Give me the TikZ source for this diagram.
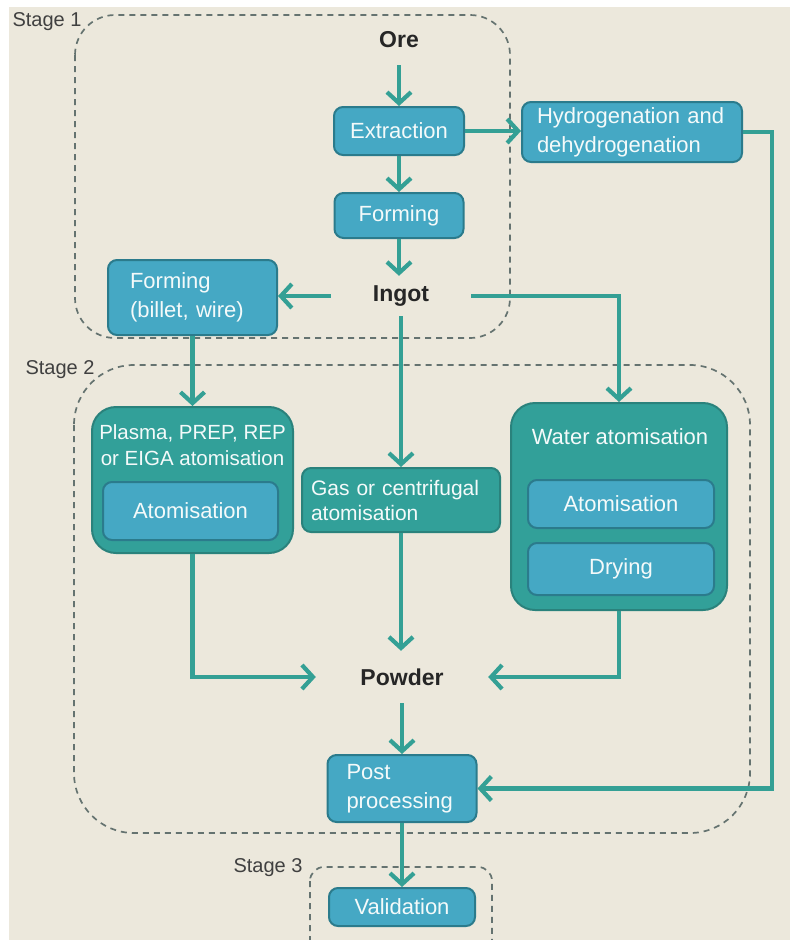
\documentclass[tikz,border=0pt]{standalone}
\usepackage{fontspec}
\setmainfont{Liberation Sans}
\usetikzlibrary{arrows.meta}
\definecolor{bgbeige}{HTML}{ECE8DC}
\definecolor{boxblue}{HTML}{45A8C4}
\definecolor{boxedge}{HTML}{2B7B8C}
\definecolor{boxtext}{HTML}{F4FAFA}
\definecolor{grpteal}{HTML}{32A099}
\definecolor{grpedge}{HTML}{2A827C}
\definecolor{flowteal}{HTML}{34A095}
\definecolor{stagegray}{HTML}{657370}

\begin{document}
\begin{tikzpicture}[x=1pt,y=-1pt,
  every node/.style={font=\fontsize{22}{29}\selectfont},
  proc/.style={draw=boxedge,fill=boxblue,line width=2pt,rounded corners=9pt,text=boxtext,inner sep=0pt},
  grp/.style={draw=grpedge,fill=grpteal,line width=2pt,rounded corners=24pt,inner sep=0pt},
  grptitle/.style={text=boxtext,inner sep=0pt,align=center},
  lbl/.style={font=\fontsize{23}{27}\selectfont\bfseries,text=black!85,inner sep=0pt},
  stagebox/.style={draw=stagegray,line width=1.7pt,dash pattern=on 6pt off 5pt,rounded corners=40pt},
  stagelbl/.style={text=black!75,font=\fontsize{20}{24}\selectfont},
  flow/.style={draw=flowteal,line width=4.2pt,-{Straight Barb[length=11pt,width=24pt]}}]
 \useasboundingbox (0,0) rectangle (792,940);
 \clip (0,0) rectangle (792,940);
 \fill[white] (0,0) rectangle (792,940);
 \fill[bgbeige] (9,7) rectangle (790,940);

 \draw[stagebox] (75,15) rectangle (510,338);
 \draw[stagebox,rounded corners=60pt] (74,365) rectangle (750,833);
 \draw[stagebox,rounded corners=14pt] (310,867) rectangle (492,960);
 \node[stagelbl] (s1) at (47,22) {Stage 1};
 \node[stagelbl] (s2) at (60,370) {Stage 2};
 \node[stagelbl] (s3) at (268,868) {Stage 3};

 \node[lbl,minimum width=60pt,minimum height=50pt] (ore) at (399,40) {Ore};
 \node[proc,minimum width=130pt,minimum height=48pt] (extr) at (399,131) {Extraction};
 \node[proc,minimum width=129pt,minimum height=45pt] (form) at (399,215.5) {Forming};
 \node[lbl,minimum width=140pt,minimum height=40pt] (ingot) at (401,296) {Ingot};
 \node[proc,minimum width=220pt,minimum height=60pt,text width=190pt,align=left] (hyd) at (632,132) {Hydrogenation and\\dehydrogenation};
 \node[proc,minimum width=169pt,minimum height=75pt,text width=125pt,align=left] (billet) at (192.5,297.5) {Forming\\(billet, wire)};

 \node[grp,minimum width=201pt,minimum height=146pt] (plasma) at (192.5,480) {};
 \node[grptitle,font=\fontsize{20.5}{26}\selectfont] (plasmatitle) at (192.5,445) {Plasma, PREP, REP\\or EIGA atomisation};
 \node[proc,minimum width=175pt,minimum height=58pt] (plasmaatom) at (190.5,511) {Atomisation};

 \node[proc,fill=grpteal,draw=grpedge,minimum width=198pt,minimum height=64pt,text width=180pt,align=left,font=\fontsize{21}{25}\selectfont] (gas) at (401,500) {Gas or centrifugal\\atomisation};

 \node[grp,minimum width=216pt,minimum height=207pt] (water) at (619,506.5) {};
 \node[grptitle] (watertitle) at (620,437) {Water atomisation};
 \node[proc,minimum width=186pt,minimum height=48pt] (wateratom) at (621,504) {Atomisation};
 \node[proc,minimum width=186pt,minimum height=52pt] (dry) at (621,569) {Drying};

 \node[lbl,minimum width=172pt,minimum height=52pt] (powder) at (402,677) {Powder};
 \node[proc,minimum width=149pt,minimum height=67pt,text width=111pt,align=left] (post) at (402,788.5) {Post\\processing};
 \node[proc,minimum width=146pt,minimum height=38pt] (valid) at (402,907) {Validation};
 \coordinate (hydturn) at (772,132);

 \draw[flow] (ore) -- (extr);
 \draw[flow] (extr) -- (form);
 \draw[flow] (form.south) -- (form.south |- ingot.north);
 \draw[flow] (extr.east) -- (extr.east -| hyd.west);
 \draw[flow] (ingot.west) -- (ingot.west -| billet.east);
 \draw[flow] (ingot.east) -| (water.north);
 \draw[flow] (ingot) -- (gas);
 \draw[flow] (billet) -- (plasma);
 \draw[flow] (plasma.south) |- (powder.west);
 \draw[flow] (gas.south) -- (gas.south |- powder.north);
 \draw[flow] (water.south) |- (powder.east);
 \draw[flow] (powder) -- (post);
 \draw[flow] (hyd.east) -- (hydturn) |- (post.east);
 \draw[flow] (post) -- (valid);
\end{tikzpicture}
\end{document}
